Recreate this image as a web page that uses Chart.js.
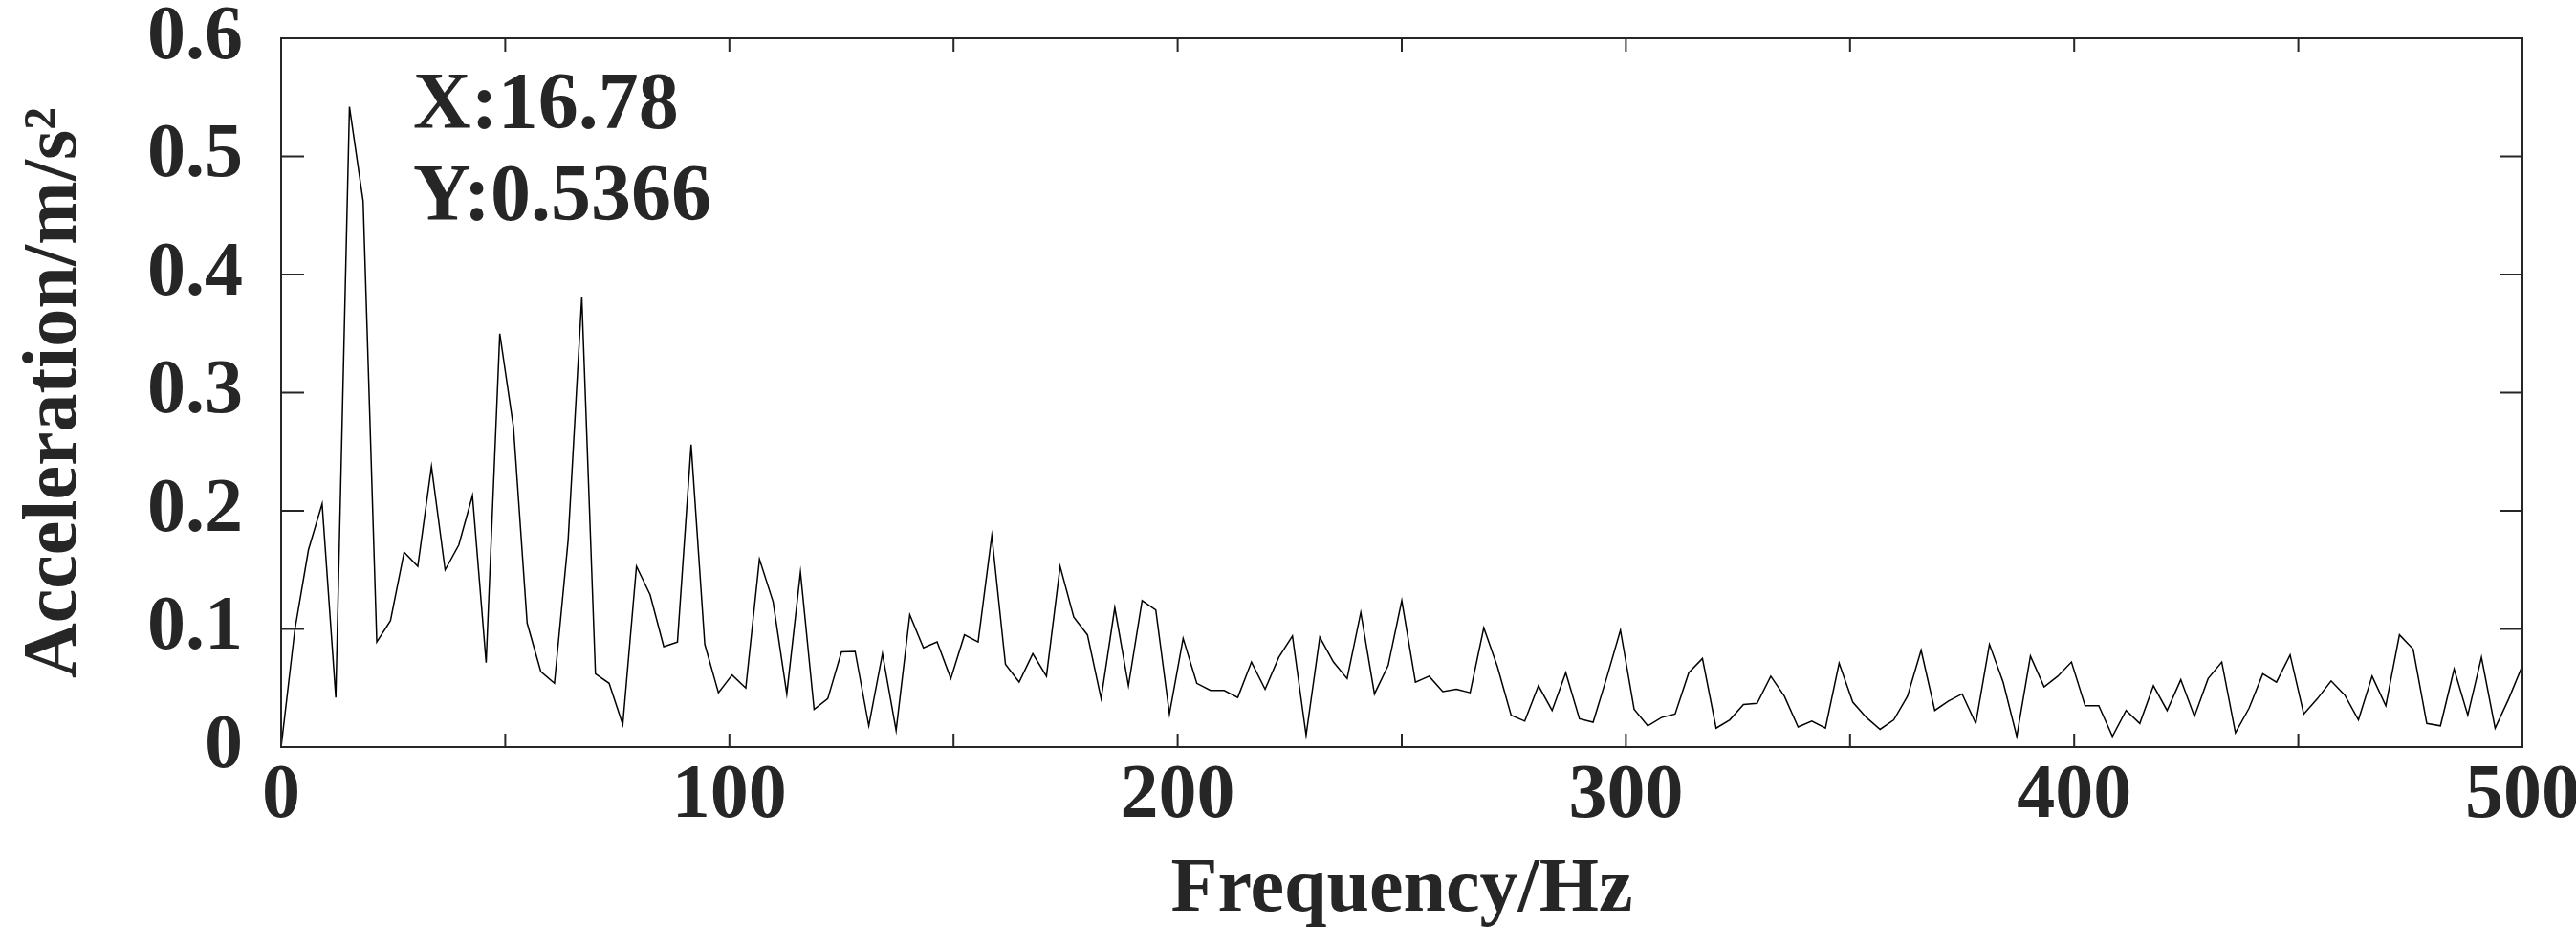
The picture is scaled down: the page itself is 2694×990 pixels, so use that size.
<!DOCTYPE html>
<html>
<head>
<meta charset="utf-8">
<script src="https://cdn.jsdelivr.net/npm/chart.js@4"></script>
<style>
  html, body { margin: 0; padding: 0; background: #fff; }
  #wrap { width: 2694px; height: 990px; }
</style>
</head>
<body>
<div id="wrap"><canvas id="spectrum"></canvas></div>
<script>
// 频谱数据 (bin spacing 500/164 Hz)
const freqStep = 500 / 164;
const accel = [
  0, 0.099, 0.167, 0.206, 0.042, 0.542, 0.462, 0.089, 0.107, 0.165,
  0.153, 0.2375, 0.150, 0.171, 0.213, 0.0715, 0.35, 0.271, 0.105, 0.064,
  0.054, 0.175, 0.381, 0.062, 0.054, 0.019, 0.153, 0.129, 0.085, 0.089,
  0.256, 0.087, 0.046, 0.061, 0.05, 0.159, 0.123, 0.045, 0.148, 0.032,
  0.041, 0.0805, 0.081, 0.018, 0.079, 0.014, 0.112, 0.084, 0.089, 0.058,
  0.095, 0.089, 0.179, 0.070, 0.055, 0.079, 0.060, 0.153, 0.110, 0.095,
  0.041, 0.118, 0.052, 0.124, 0.116, 0.028, 0.092, 0.054, 0.048, 0.048,
  0.042, 0.072, 0.049, 0.076, 0.094, 0.010, 0.093, 0.072, 0.058, 0.114,
  0.045, 0.069, 0.124, 0.055, 0.060, 0.047, 0.049, 0.046, 0.101, 0.068,
  0.027, 0.022, 0.052, 0.031, 0.063, 0.024, 0.021, 0.059, 0.099, 0.032,
  0.018, 0.025, 0.028, 0.063, 0.075, 0.016, 0.023, 0.036, 0.037, 0.060,
  0.043, 0.017, 0.022, 0.016, 0.071, 0.038, 0.025, 0.015, 0.023, 0.043,
  0.082, 0.031, 0.039, 0.045, 0.020, 0.087, 0.055, 0.009, 0.077, 0.051,
  0.060, 0.072, 0.035, 0.035, 0.009, 0.031, 0.020, 0.052, 0.031, 0.057,
  0.026, 0.058, 0.072, 0.012, 0.033, 0.062, 0.055, 0.078, 0.028, 0.041,
  0.056, 0.044, 0.023, 0.060, 0.035, 0.095, 0.083, 0.020, 0.018, 0.066,
  0.027, 0.076, 0.016, 0.041, 0.069
];
const xTickLabels = ['0', '100', '200', '300', '400', '500'];
const yTickLabels = ['0', '0.1', '0.2', '0.3', '0.4', '0.5', '0.6'];
const peakLabel = ['X:16.78', 'Y:0.5366'];

const axisColor = '#262626';
const fontFamily = '"Liberation Serif", "Times New Roman", serif';

// 상자와 안쪽 눈금, 피크 주석
const boxPlugin = {
  id: 'boxTicks',
  afterDraw(chart) {
    const { ctx, chartArea: a, scales: { x, y } } = chart;
    ctx.save();
    ctx.strokeStyle = axisColor;
    ctx.lineWidth = 2;
    ctx.strokeRect(a.left, a.top, a.right - a.left, a.bottom - a.top);
    ctx.beginPath();
    for (let v = 0; v <= 500; v += 50) {
      const px = x.getPixelForValue(v);
      ctx.moveTo(px, a.bottom); ctx.lineTo(px, a.bottom - 14);
      ctx.moveTo(px, a.top); ctx.lineTo(px, a.top + 14);
    }
    yTickLabels.forEach((t, i) => {
      const py = y.getPixelForValue(i * 0.1);
      ctx.moveTo(a.left, py); ctx.lineTo(a.left + 24, py);
      ctx.moveTo(a.right, py); ctx.lineTo(a.right - 24, py);
    });
    ctx.stroke();
    ctx.fillStyle = axisColor;
    ctx.font = 'bold 84px ' + fontFamily;
    ctx.textBaseline = 'alphabetic';
    ctx.fillText(peakLabel[0], 432, 134);
    ctx.fillText(peakLabel[1], 432, 230);
    ctx.restore();
  }
};

const chart = new Chart(document.getElementById('spectrum'), {
  type: 'line',
  data: {
    datasets: [{
      data: accel.map((v, i) => ({ x: i * freqStep, y: v })),
      borderColor: '#000',
      borderWidth: 1.5,
      pointRadius: 0,
      tension: 0
    }]
  },
  options: {
    responsive: true,
    maintainAspectRatio: false,
    devicePixelRatio: 1,
    animation: false,
    layout: { padding: 0 },
    plugins: { legend: { display: false }, tooltip: { enabled: false } },
    scales: {
      x: {
        type: 'linear', min: 0, max: 500,
        afterFit(s) { s.height = 209; s.paddingRight = 56; },
        grid: { display: false, drawTicks: false },
        border: { display: false },
        ticks: {
          stepSize: 100, padding: 12, color: axisColor,
          font: { family: fontFamily, size: 80, weight: 'bold', lineHeight: 1 },
          callback: (v) => xTickLabels[v / 100]
        },
        title: {
          display: true, text: 'Frequency/Hz', color: axisColor,
          font: { family: fontFamily, size: 80, weight: 'bold', lineHeight: 1 },
          padding: { top: 0, bottom: 19 }
        }
      },
      y: {
        min: 0, max: 0.6,
        afterFit(s) { s.width = 294; s.paddingTop = 40; },
        grid: { display: false, drawTicks: false },
        border: { display: false },
        ticks: {
          stepSize: 0.1, padding: 40, color: axisColor,
          font: { family: fontFamily, size: 80, weight: 'bold', lineHeight: 1 },
          callback: (v) => yTickLabels[Math.round(v * 10)]
        },
        title: {
          display: true, text: 'Acceleration/m/s²', color: axisColor,
          font: { family: fontFamily, size: 80, weight: 'bold', lineHeight: 1 },
          padding: { top: 18, bottom: 0 }
        }
      }
    }
  },
  plugins: [boxPlugin]
});
</script>
</body>
</html>
